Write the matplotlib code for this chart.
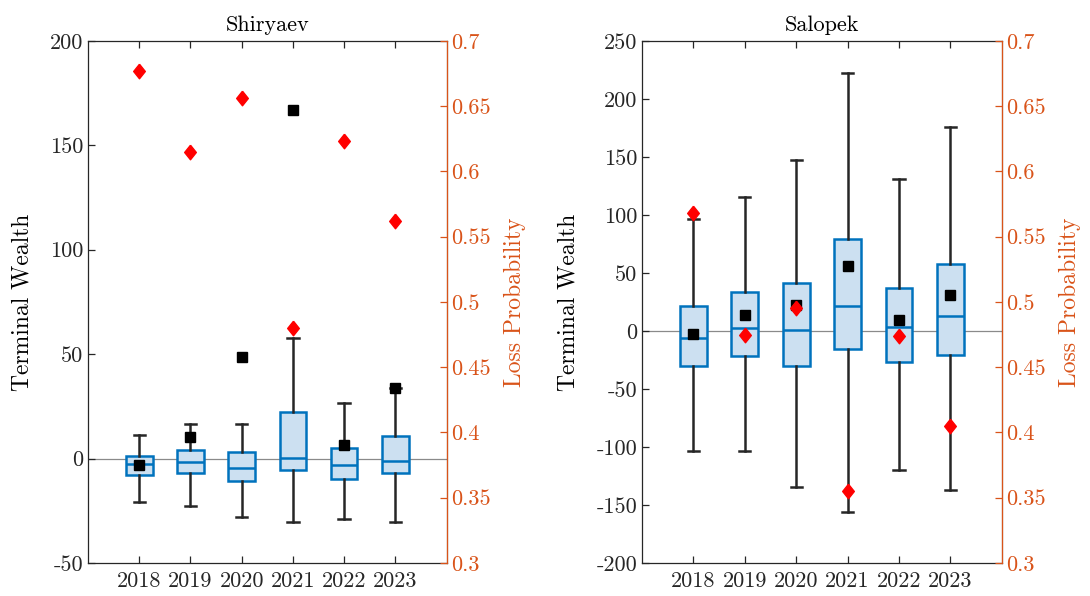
import matplotlib
matplotlib.use("Agg")
import matplotlib.pyplot as plt

plt.rcParams['font.family'] = ['cmr10', 'DejaVu Serif']
plt.rcParams['axes.unicode_minus'] = False
plt.rcParams['axes.formatter.use_mathtext'] = True

# ------------------------------------------------------------------
# data
# ------------------------------------------------------------------
years = ['2018', '2019', '2020', '2021', '2022', '2023']

# Shiryaev
shi_whislo = [-20.7, -22.8, -27.8, -30.3, -29.0, -30.3]
shi_q1 = [-8.1, -7.1, -10.7, -5.5, -10.0, -6.7]
shi_med = [-2.5, -1.5, -4.7, 0.5, -3.0, -1.2]
shi_q3 = [1.0, 4.2, 3.1, 22.5, 4.9, 10.9]
shi_whishi = [11.4, 16.5, 16.5, 57.5, 26.4, 33.6]
shi_mean = [-3.3, 10.5, 48.4, 167.0, 6.5, 33.6]
shi_loss = [0.677, 0.615, 0.656, 0.480, 0.623, 0.562]

# Salopek
sal_whislo = [-103.3, -103.9, -134.7, -155.7, -119.7, -137.3]
sal_q1 = [-29.9, -21.8, -29.9, -15.8, -26.4, -21.0]
sal_med = [-6.3, 2.9, 0.6, 21.4, 3.2, 12.7]
sal_q3 = [21.4, 33.8, 41.5, 79.5, 36.6, 57.3]
sal_whishi = [96.2, 115.8, 147.5, 222.3, 130.8, 175.4]
sal_mean = [-2.8, 13.9, 22.0, 55.9, 9.8, 31.2]
sal_loss = [0.5685, 0.475, 0.495, 0.355, 0.474, 0.405]

shi_yticks = [-50, 0, 50, 100, 150, 200]
sal_yticks = [-200, -150, -100, -50, 0, 50, 100, 150, 200, 250]
loss_ticks = [0.3, 0.35, 0.4, 0.45, 0.5, 0.55, 0.6, 0.65, 0.7]

# ------------------------------------------------------------------
# styling
# ------------------------------------------------------------------
BLUE = '#0072BD'
FILL = '#CCE0F1'
DARK = '#262626'
ORANGE = '#D95319'
FS = 16
DIAMOND = [(0, 1), (0.8, 0), (0, -1), (-0.8, 0), (0, 1)]


def panel(ax, title, whislo, q1, med, q3, whishi, mean, loss, yticks):
    stats = []
    for i in range(len(years)):
        stats.append(dict(whislo=whislo[i], q1=q1[i], med=med[i], q3=q3[i],
                          whishi=whishi[i], fliers=[], label=years[i]))
    pos = list(range(1, len(years) + 1))
    ax.axhline(0, color='#8a8a8a', lw=0.9, zorder=0)
    ax.bxp(stats, positions=pos, widths=0.52, capwidths=0.22,
           patch_artist=True, showfliers=False,
           boxprops=dict(facecolor=FILL, edgecolor=BLUE, lw=1.8),
           medianprops=dict(color=BLUE, lw=1.8),
           whiskerprops=dict(color=DARK, lw=1.8),
           capprops=dict(color=DARK, lw=1.8))
    ax.plot(pos, mean, ls='none', marker='s', ms=7, color='black', zorder=5)
    ax.set_xlim(0, len(years) + 1)
    ax.set_ylim(yticks[0], yticks[-1])
    ax.set_yticks(yticks, [str(t) for t in yticks])
    ax.set_xticks(pos, years)
    ax.tick_params(direction='in', length=5, labelsize=FS, colors=DARK,
                   top=True, width=0.9)
    ax.tick_params(axis='y', right=False)
    ax.tick_params(axis='x', pad=6)
    for s in ['left', 'bottom', 'top']:
        ax.spines[s].set_color(DARK)
        ax.spines[s].set_linewidth(0.9)
    ax.set_ylabel('Terminal Wealth', fontsize=FS + 1, color='black', labelpad=12)
    ax.set_title(title, fontsize=FS, color='black', pad=7)

    ax2 = ax.twinx()
    ax2.plot(pos, loss, ls='none', marker=DIAMOND, ms=10.5, color='#FF0000',
             markeredgecolor='#FF0000', zorder=6)
    ax2.set_ylim(0.3, 0.7)
    ax2.set_yticks(loss_ticks, [f'{t:g}' for t in loss_ticks])
    ax2.tick_params(direction='in', length=5, labelsize=FS, colors=ORANGE,
                    width=0.9)
    ax2.spines['right'].set_color(ORANGE)
    ax2.spines['right'].set_linewidth(0.9)
    ax2.spines['top'].set_visible(False)
    ax2.spines['left'].set_visible(False)
    ax2.spines['bottom'].set_visible(False)
    ax2.set_ylabel('Loss Probability', fontsize=FS + 1, color=ORANGE, labelpad=9)


fig = plt.figure(figsize=(10.9, 5.96), dpi=100)
ax_l = fig.add_axes([0.0807, 0.0554, 0.329, 0.876])
ax_r = fig.add_axes([0.589, 0.0554, 0.330, 0.876])

panel(ax_l, 'Shiryaev', shi_whislo, shi_q1, shi_med, shi_q3, shi_whishi,
      shi_mean, shi_loss, shi_yticks)
panel(ax_r, 'Salopek', sal_whislo, sal_q1, sal_med, sal_q3, sal_whishi,
      sal_mean, sal_loss, sal_yticks)

fig.savefig('out.png', dpi=100)
